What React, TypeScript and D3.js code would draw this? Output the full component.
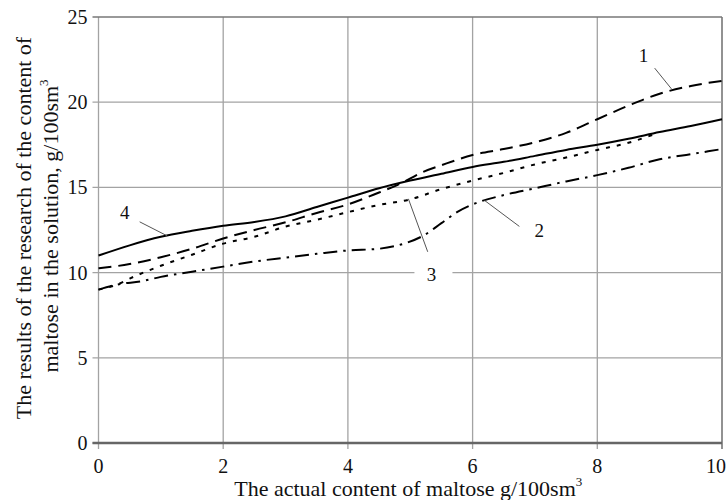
import React, { useRef, useEffect } from "react";
import * as d3 from "d3";

// curve 1 - long dash
const xs1 = [0, 0.5, 1, 1.5, 2, 2.5, 3, 3.5, 4, 4.5, 4.8, 5.2, 5.5, 6, 6.5, 7, 7.5, 8, 8.5, 9, 9.5, 10];
const ys1 = [10.25, 10.5, 10.9, 11.4, 12.0, 12.5, 12.95, 13.5, 14.0, 14.7, 15.15, 15.9, 16.3, 16.9, 17.25, 17.65, 18.2, 19.0, 19.8, 20.5, 20.95, 21.25];

// curve 2 - dash dot
const xs2 = [0, 0.3, 0.7, 1, 1.5, 2, 2.5, 3, 3.5, 4, 4.5, 4.9, 5.2, 5.5, 5.75, 6, 6.5, 7, 7.5, 8, 8.5, 9, 9.5, 10];
const ys2 = [9.0, 9.3, 9.5, 9.75, 10.05, 10.35, 10.65, 10.88, 11.1, 11.3, 11.4, 11.7, 12.15, 12.9, 13.55, 14.0, 14.55, 14.95, 15.35, 15.72, 16.15, 16.65, 16.95, 17.25];

// curve 3 - short dash
const xs3 = [0, 0.3, 0.5, 1, 1.5, 2, 2.5, 3, 3.5, 4, 4.5, 5, 5.5, 6, 6.5, 7, 7.5, 8, 8.5, 8.9];
const ys3 = [9.0, 9.3, 9.65, 10.4, 11.05, 11.7, 12.1, 12.7, 13.1, 13.55, 13.97, 14.3, 14.9, 15.4, 15.85, 16.35, 16.75, 17.2, 17.62, 18.1];

// curve 4 - solid
const xs4 = [0, 0.5, 1, 1.5, 2, 2.5, 3, 3.5, 4, 4.5, 5, 5.5, 6, 6.5, 7, 7.5, 8, 8.5, 9, 9.5, 10];
const ys4 = [11.0, 11.6, 12.1, 12.45, 12.75, 12.97, 13.3, 13.85, 14.4, 14.95, 15.4, 15.8, 16.2, 16.5, 16.85, 17.2, 17.5, 17.85, 18.25, 18.6, 19.0];

const xTicks = [0, 2, 4, 6, 8, 10];
const yTicks = [0, 5, 10, 15, 20, 25];

// curve labels: text, label position, leader start, leader end (data units)
const labelNames = ["1", "2", "3", "4"];
const labelPos = [[8.74, 22.78], [7.07, 12.51], [5.34, 9.93], [0.42, 13.57]];
const leaderFrom = [[8.92, 22.0], [6.19, 14.24], [4.97, 14.33], [0.66, 12.98]];
const leaderTo = [[9.19, 20.78], [6.75, 12.71], [5.28, 11.22], [1.1, 12.16]];

const App = () => {
  const svgRef = useRef<SVGSVGElement>(null);

  useEffect(() => {
    const margin = { top: 17, right: 5, bottom: 57, left: 98.5 };
    const W = 727;
    const H = 500;
    const width = W - margin.left - margin.right;
    const height = H - margin.top - margin.bottom;

    const svg = d3.select(svgRef.current);
    svg.selectAll("*").remove();

    const font = "'Liberation Serif', 'Times New Roman', serif";

    const chart = svg
      .append("g")
      .attr("transform", `translate(${margin.left}, ${margin.top})`);

    const x = d3.scaleLinear().domain([0, 10]).range([0, width]);
    const y = d3.scaleLinear().domain([0, 25]).range([height, 0]);

    // grid
    chart
      .selectAll(".vgrid")
      .data(xTicks)
      .enter()
      .append("line")
      .attr("x1", (d) => x(d))
      .attr("x2", (d) => x(d))
      .attr("y1", 0)
      .attr("y2", height + 6)
      .attr("stroke", (d) => (d === 10 ? "#777" : "#a3a3a3"))
      .attr("stroke-width", (d) => (d === 10 ? 1.6 : 1.3));

    chart
      .selectAll(".hgrid")
      .data(yTicks)
      .enter()
      .append("line")
      .attr("x1", -6)
      .attr("x2", width)
      .attr("y1", (d) => y(d))
      .attr("y2", (d) => y(d))
      .attr("stroke", (d) => (d === 25 ? "#777" : "#a3a3a3"))
      .attr("stroke-width", (d) => (d === 25 ? 1.6 : 1.3));

    // bottom axis line
    chart
      .append("line")
      .attr("x1", -6)
      .attr("x2", width)
      .attr("y1", height)
      .attr("y2", height)
      .attr("stroke", "#666")
      .attr("stroke-width", 2.4);

    // tick labels
    chart
      .selectAll(".xlab")
      .data(xTicks)
      .enter()
      .append("text")
      .attr("x", (d) => (d === 10 ? x(d) + 4 : x(d)))
      .attr("y", height + 30)
      .attr("text-anchor", (d) => (d === 10 ? "end" : "middle"))
      .attr("font-family", font)
      .attr("font-size", 20)
      .attr("fill", "#111")
      .text((d) => d);

    chart
      .selectAll(".ylab")
      .data(yTicks)
      .enter()
      .append("text")
      .attr("x", -11)
      .attr("y", (d) => y(d) + 7)
      .attr("text-anchor", "end")
      .attr("font-family", font)
      .attr("font-size", 20)
      .attr("fill", "#111")
      .text((d) => d);

    // axis titles
    const xt = chart
      .append("text")
      .attr("x", width / 2 - 2)
      .attr("y", height + 53)
      .attr("text-anchor", "middle")
      .attr("font-family", font)
      .attr("font-size", 22)
      .attr("fill", "#111");
    xt.append("tspan").text("The actual content of maltose g/100sm");
    xt.append("tspan").attr("dy", -10).attr("font-size", 13).text("3");

    const yt = chart
      .append("text")
      .attr("transform", `translate(${-67.5}, ${height / 2 - 2}) rotate(-90)`)
      .attr("text-anchor", "middle")
      .attr("font-family", font)
      .attr("font-size", 22)
      .attr("fill", "#111");
    yt.append("tspan").text("The results of the research of the content of");

    const yt2 = chart
      .append("text")
      .attr("transform", `translate(${-40.5}, ${height / 2 - 4}) rotate(-90)`)
      .attr("text-anchor", "middle")
      .attr("font-family", font)
      .attr("font-size", 22)
      .attr("fill", "#111");
    yt2.append("tspan").text("maltose in the solution, g/100sm");
    yt2.append("tspan").attr("dy", -10).attr("font-size", 13).text("3");

    // curves
    const line = d3
      .line<[number, number]>()
      .x((d) => x(d[0]))
      .y((d) => y(d[1]))
      .curve(d3.curveMonotoneX);

    const series = [
      { xs: xs1, ys: ys1, dash: "13,7" },
      { xs: xs2, ys: ys2, dash: "14,6,2.5,6" },
      { xs: xs3, ys: ys3, dash: "4,7" },
      { xs: xs4, ys: ys4, dash: null },
    ];

    series.forEach((s) => {
      const pts = s.xs.map((v, i) => [v, s.ys[i]] as [number, number]);
      chart
        .append("path")
        .attr("d", line(pts))
        .attr("fill", "none")
        .attr("stroke", "#000")
        .attr("stroke-width", 2)
        .attr("stroke-dasharray", s.dash);
    });

    // annotations
    labelNames.forEach((name, i) => {
      chart
        .append("line")
        .attr("x1", x(leaderFrom[i][0]))
        .attr("y1", y(leaderFrom[i][1]))
        .attr("x2", x(leaderTo[i][0]))
        .attr("y2", y(leaderTo[i][1]))
        .attr("stroke", "#555")
        .attr("stroke-width", 1);

      if (name === "3") {
        chart
          .append("rect")
          .attr("x", x(labelPos[i][0]) - 17)
          .attr("y", y(labelPos[i][1]) - 5)
          .attr("width", 38)
          .attr("height", 10)
          .attr("fill", "#fff");
      }

      chart
        .append("text")
        .attr("x", x(labelPos[i][0]))
        .attr("y", y(labelPos[i][1]) + 7)
        .attr("text-anchor", "middle")
        .attr("font-family", font)
        .attr("font-size", 19)
        .attr("fill", "#111")
        .text(name);
    });
  }, []);

  return (
    <svg
      ref={svgRef}
      width={727}
      height={500}
      style={{ position: "absolute", left: 0, top: 0, background: "#fff" }}
    ></svg>
  );
};

export default App;
